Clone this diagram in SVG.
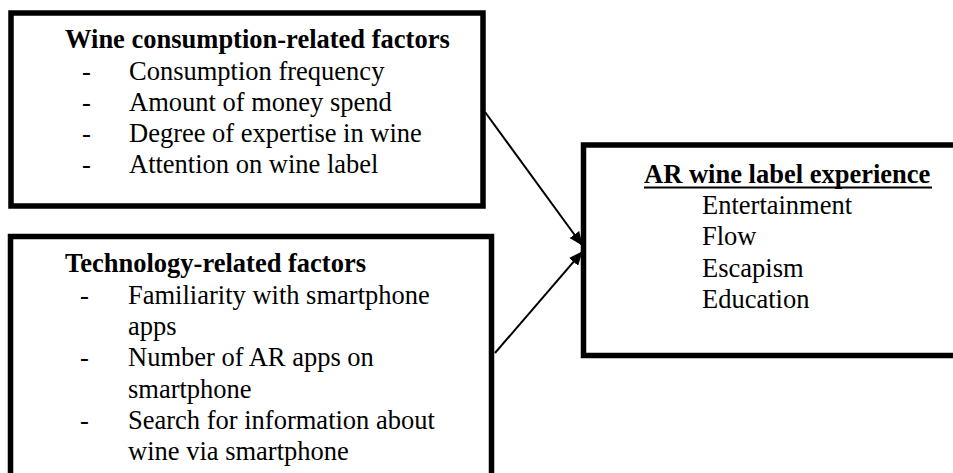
<svg xmlns="http://www.w3.org/2000/svg" width="953" height="473" viewBox="0 0 953 473">
  <defs>
    <style>
      .box { fill: #ffffff; stroke: #000000; stroke-width: 5.5; }
      .t { font-family: "Liberation Serif", "Times New Roman", serif; font-size: 26.5px; fill: #000000; }
      .b { font-weight: bold; }
      .link { stroke: #000000; stroke-width: 2; fill: none; }
    </style>
    <marker id="arrow" markerUnits="userSpaceOnUse" markerWidth="14" markerHeight="12" viewBox="0 0 14 12" refX="13" refY="6" orient="auto">
      <path d="M0,0 L14,6 L0,12 Z" fill="#000000"/>
    </marker>
  </defs>
  <rect width="953" height="473" fill="#ffffff"/>

  <g id="wine-factors">
    <rect class="box" x="11" y="13" width="472" height="193"/>
    <text class="t b" x="65" y="48">Wine consumption-related factors</text>
    <text class="t" x="82" y="80">-</text>
    <text class="t" x="129" y="80">Consumption frequency</text>
    <text class="t" x="82" y="111">-</text>
    <text class="t" x="129" y="111">Amount of money spend</text>
    <text class="t" x="82" y="142">-</text>
    <text class="t" x="129" y="142">Degree of expertise in wine</text>
    <text class="t" x="82" y="173">-</text>
    <text class="t" x="129" y="173">Attention on wine label</text>
  </g>

  <g id="technology-factors">
    <rect class="box" x="10.5" y="236.5" width="481" height="260"/>
    <text class="t b" x="65" y="272">Technology-related factors</text>
    <text class="t" x="80" y="304">-</text>
    <text class="t" x="128" y="304">Familiarity with smartphone</text>
    <text class="t" x="128" y="335">apps</text>
    <text class="t" x="80" y="366">-</text>
    <text class="t" x="128" y="366">Number of AR apps on</text>
    <text class="t" x="128" y="398">smartphone</text>
    <text class="t" x="80" y="429">-</text>
    <text class="t" x="128" y="429">Search for information about</text>
    <text class="t" x="128" y="460">wine via smartphone</text>
  </g>

  <g id="ar-experience">
    <rect class="box" x="583.5" y="145" width="400" height="210.5"/>
    <text class="t b" x="644" y="183">AR wine label experience</text>
    <line x1="644" y1="187.5" x2="932" y2="187.5" stroke="#000000" stroke-width="2"/>
    <text class="t" x="702" y="214">Entertainment</text>
    <text class="t" x="702" y="245">Flow</text>
    <text class="t" x="702" y="277">Escapism</text>
    <text class="t" x="702" y="308">Education</text>
  </g>

  <g id="connectors">
    <line class="link" x1="485" y1="112" x2="582" y2="245" marker-end="url(#arrow)"/>
    <line class="link" x1="495" y1="353" x2="582" y2="252" marker-end="url(#arrow)"/>
  </g>
</svg>
